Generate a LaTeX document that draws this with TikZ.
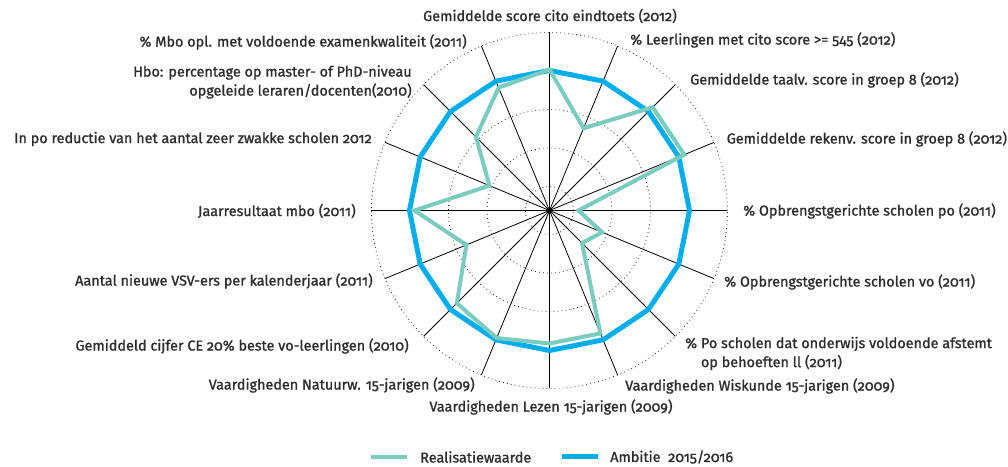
\documentclass[tikz,border=0pt]{standalone}
\usepackage{fontspec}
\setmainfont[Numbers=OldStyle,FakeBold=1.2]{Fira Sans}
\usepackage{tikz}
\usetikzlibrary{positioning}
\usetikzlibrary{calc}
\definecolor{realgreen}{RGB}{122,204,190}
\definecolor{ambblue}{RGB}{0,174,239}
\definecolor{labelgray}{RGB}{45,45,45}
\tikzstyle{axisline} = [draw,black,line width=0.6pt]
\tikzstyle{gridring} = [draw,black!85,line width=0.6pt,dash pattern=on 0.6pt off 2.4pt]
\tikzstyle{realline} = [draw,realgreen,line width=3pt]
\tikzstyle{ambline} = [draw,ambblue,line width=3.75pt]
\tikzstyle{axislabel} = [font=\fontsize{10.8}{14.25}\selectfont,text=labelgray,inner sep=0pt]

\begin{document}
\begin{tikzpicture}[x=0.75pt,y=0.75pt]
    \useasboundingbox (-549.5,-256.5) rectangle (458.5,210.5);
    \coordinate (c) at (0,0);
    % dotted rings
    \foreach \r in {24,62.5,101,139.5,178}
        \draw[gridring] (c) circle (\r);
    % axes
    \foreach \i in {0,...,15}{
        \coordinate (a\i) at ({90-22.5*\i}:178);
        \draw[axisline] (c) -- (a\i);
    }
    % ambitie and realisatie points
    \foreach \i in {0,...,15}
        \coordinate (b\i) at ({90-22.5*\i}:140);
    \foreach \i/\r in {0/141, 1/89, 2/146, 3/146, 4/29, 5/57, 6/46, 7/133, 8/133, 9/138, 10/131, 11/90, 12/135, 13/65, 14/104, 15/133}
        \coordinate (g\i) at ({90-22.5*\i}:\r);
    \path[ambline] (b0) \foreach \i in {1,...,15}{ -- (b\i)} -- cycle;
    \path[realline] (g0) \foreach \i in {1,...,15}{ -- (g\i)} -- cycle;

    % labels
    \node[axislabel] (l0) at (0.5,194.5) {Gemiddelde score cito eindtoets (2012)};
    \foreach \pos/\name/\label in {{(80.5,170.5)/l1/\% Leerlingen met cito score >= 545 (2012)}, {(140.5,130.5)/l2/Gemiddelde taalv. score in groep 8 (2012)}, {(177,71.5)/l3/Gemiddelde rekenv. score in groep 8 (2012)}, {(193.5,-0.5)/l4/\% Opbrengstgerichte scholen po (2011)}, {(174.5,-71.5)/l5/\% Opbrengstgerichte scholen vo (2011)}, {(75.5,-175.5)/l7/Vaardigheden Wiskunde 15-jarigen (2009)}}
        \node[axislabel,anchor=west] (\name) at \pos {\label};
    \node[axislabel,anchor=west,align=left] (l6) at (135.5,-143) {\% Po scholen dat onderwijs voldoende afstemt\\\hphantom{\% }op behoeften ll (2011)};
    \node[axislabel] (l8) at (1.5,-196.5) {Vaardigheden Lezen 15-jarigen (2009)};
    \foreach \pos/\name/\label in {{(-74.5,-174.5)/l9/Vaardigheden Natuurw. 15-jarigen (2009)}, {(-140.5,-135.5)/l10/Gemiddeld cijfer CE 20\% beste vo-leerlingen (2010)}, {(-176.5,-70.5)/l11/Aantal nieuwe VSV-ers per kalenderjaar (2011)}, {(-193.5,-0.5)/l12/Jaarresultaat mbo (2011)}, {(-177.5,71.5)/l13/In po reductie van het aantal zeer zwakke scholen 2012}, {(-82.5,168.5)/l15/\% Mbo opl. met voldoende examenkwaliteit (2011)}}
        \node[axislabel,anchor=east] (\name) at \pos {\label};
    \node[axislabel,anchor=east,align=right] (l14) at (-137.5,128.5) {Hbo: percentage op master- of PhD-niveau\\opgeleide leraren/docenten(2010)};

    % legend
    \coordinate (rs) at (-178.5,-246.5);
    \coordinate (re) at (-142.5,-246.5);
    \coordinate (as) at (12.5,-246.5);
    \coordinate (ae) at (48.5,-246.5);
    \path[realline] (rs) -- (re);
    \path[ambline] (as) -- (ae);
    \node[axislabel,anchor=west] (realtext) at (-129.5,-246.5) {Realisatiewaarde};
    \node[axislabel,anchor=west] (ambtext) at (60.5,-246.5) {Ambitie\ \ 2015/2016};
\end{tikzpicture}
\end{document}
